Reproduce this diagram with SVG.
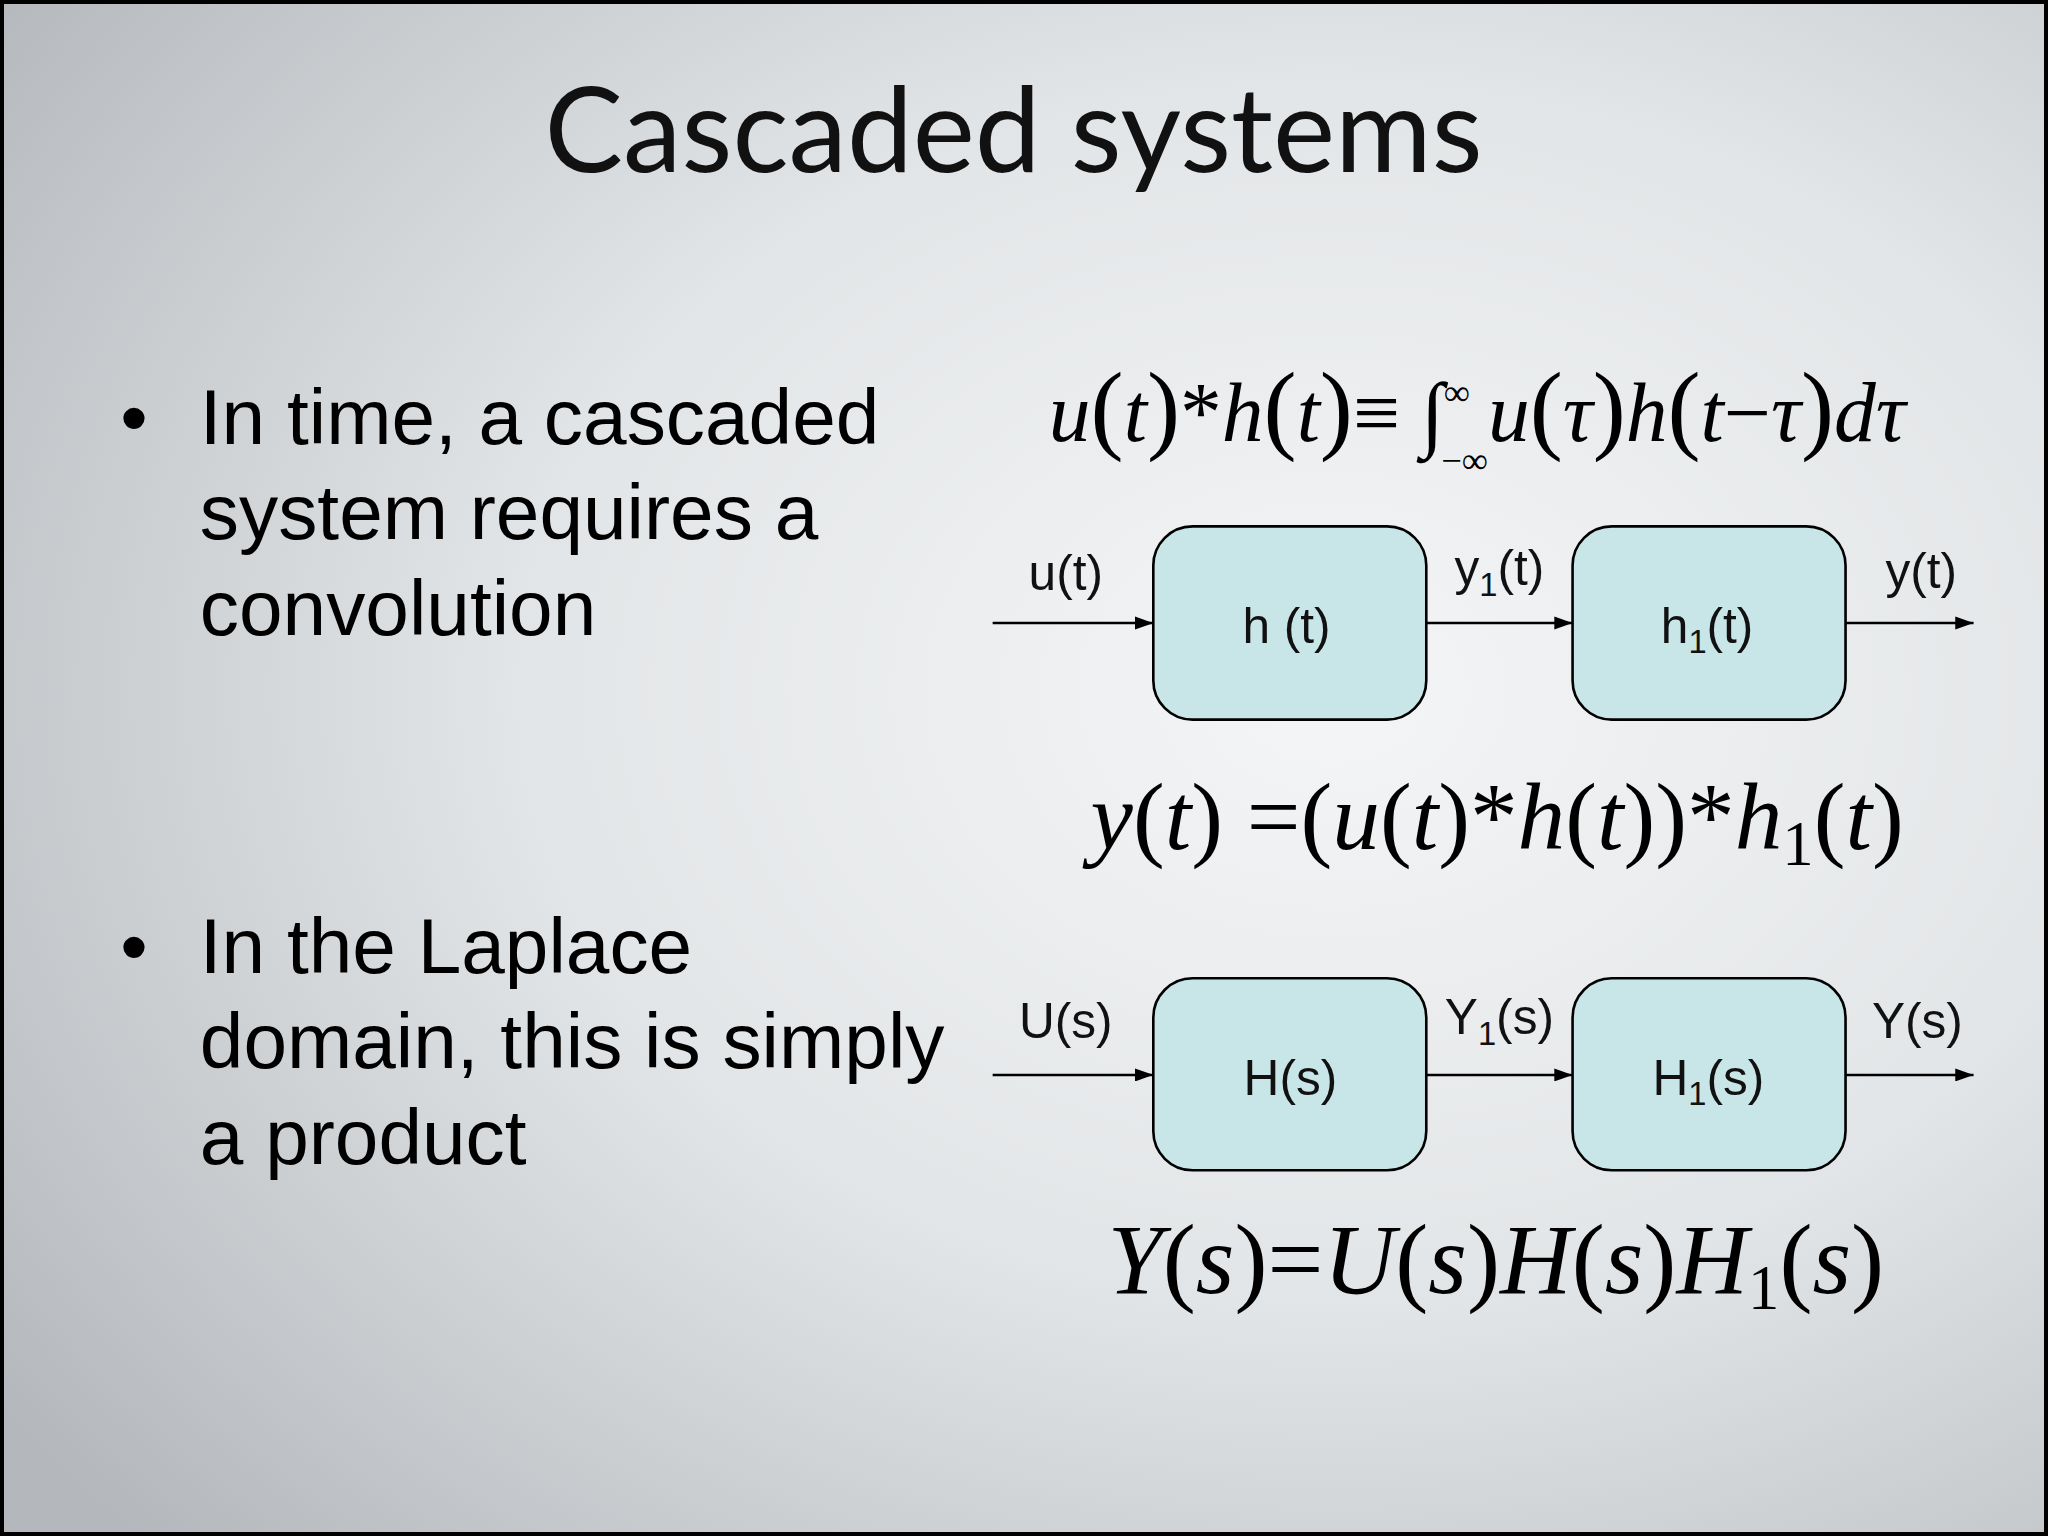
<svg xmlns="http://www.w3.org/2000/svg" width="2048" height="1536" viewBox="0 0 2048 1536">
<defs>
<radialGradient id="bg" cx="0.65" cy="0.45" r="0.8">
<stop offset="0" stop-color="#f4f5f6"/>
<stop offset="0.5" stop-color="#e2e5e7"/>
<stop offset="1" stop-color="#b4b8bc"/>
</radialGradient>
<marker id="ah" markerWidth="14" markerHeight="10" refX="14" refY="5" orient="auto" markerUnits="userSpaceOnUse">
<path d="M0,0 L14,5 L0,10 z" fill="#000"/>
</marker>
<style>
.box{fill:#c8e6e8;stroke:#000;stroke-width:2}
.lbl{font-family:"Liberation Sans",Arial,sans-serif;font-size:38px;fill:#111}
.bul{font-family:"Liberation Sans",Arial,sans-serif;font-size:60px;fill:#000}
.math{font-family:"Liberation Serif","Times New Roman",serif;font-style:italic;fill:#000}
.conn line{stroke:#000;stroke-width:2;marker-end:url(#ah)}
</style>
</defs>
<rect width="2048" height="1536" fill="url(#bg)"/>
<rect x="2" y="2" width="2044" height="1532" fill="none" stroke="#000" stroke-width="4"/>
<g transform="scale(1.30612)">
<text x="776" y="132" text-anchor="middle" font-family="Lato,'Open Sans',sans-serif" font-size="90" fill="#111">Cascaded systems</text>
<g class="bul">
<text x="92" y="340">•</text>
<text x="153" y="340">In time, a cascaded</text>
<text x="153" y="413">system requires a</text>
<text x="153" y="486">convolution</text>
<text x="92" y="745">•</text>
<text x="153" y="745">In the Laplace</text>
<text x="153" y="818">domain, this is simply</text>
<text x="153" y="891">a product</text>
</g>
<text class="math" x="803" y="338" font-size="64">u<tspan font-style="normal" font-size="76">(</tspan>t<tspan font-style="normal" font-size="76">)</tspan><tspan font-style="normal">*</tspan>h<tspan font-style="normal" font-size="76">(</tspan>t<tspan font-style="normal" font-size="76">)</tspan><tspan font-style="normal">≡ ∫</tspan><tspan font-style="normal" font-size="28" dy="-28">∞</tspan><tspan font-style="normal" font-size="28" dx="-22" dy="52">−∞</tspan><tspan dy="-24">u</tspan><tspan font-style="normal" font-size="76">(</tspan>τ<tspan font-style="normal" font-size="76">)</tspan>h<tspan font-style="normal" font-size="76">(</tspan>t<tspan font-style="normal">−</tspan>τ<tspan font-style="normal" font-size="76">)</tspan>dτ</text>
<g id="n1"><rect class="box" x="883" y="403" width="209" height="148" rx="30"/><text class="lbl" x="985" y="492" text-anchor="middle">h (t)</text></g>
<g id="n2"><rect class="box" x="1204" y="403" width="209" height="148" rx="30"/><text class="lbl" x="1307" y="492" text-anchor="middle">h<tspan font-size="25" dy="8">1</tspan><tspan dy="-8">(t)</tspan></text></g>
<g id="n3"><rect class="box" x="883" y="749" width="209" height="147" rx="30"/><text class="lbl" x="988" y="838" text-anchor="middle">H(s)</text></g>
<g id="n4"><rect class="box" x="1204" y="749" width="209" height="147" rx="30"/><text class="lbl" x="1308" y="838" text-anchor="middle">H<tspan font-size="25" dy="8">1</tspan><tspan dy="-8">(s)</tspan></text></g>
<g class="conn" id="connectors">
<line x1="760" y1="477" x2="883" y2="477"/>
<line x1="1092" y1="477" x2="1204" y2="477"/>
<line x1="1413" y1="477" x2="1511" y2="477"/>
<line x1="760" y1="823" x2="883" y2="823"/>
<line x1="1092" y1="823" x2="1204" y2="823"/>
<line x1="1413" y1="823" x2="1511" y2="823"/>
</g>
<text class="lbl" x="816" y="452" text-anchor="middle">u(t)</text>
<text class="lbl" x="1148" y="448" text-anchor="middle">y<tspan font-size="25" dy="8">1</tspan><tspan dy="-8">(t)</tspan></text>
<text class="lbl" x="1471" y="450" text-anchor="middle">y(t)</text>
<text class="lbl" x="816" y="795" text-anchor="middle">U(s)</text>
<text class="lbl" x="1148" y="792" text-anchor="middle">Y<tspan font-size="25" dy="8">1</tspan><tspan dy="-8">(s)</tspan></text>
<text class="lbl" x="1468" y="795" text-anchor="middle">Y(s)</text>
<text class="math" x="835" y="650" font-size="73">y<tspan font-style="normal">(</tspan>t<tspan font-style="normal">) =(</tspan>u<tspan font-style="normal">(</tspan>t<tspan font-style="normal">)*</tspan>h<tspan font-style="normal">(</tspan>t<tspan font-style="normal">))*</tspan>h<tspan font-style="normal" font-size="48" dy="12">1</tspan><tspan font-style="normal" dy="-12">(</tspan>t<tspan font-style="normal">)</tspan></text>
<text class="math" x="848" y="990" font-size="76">Y<tspan font-style="normal">(</tspan>s<tspan font-style="normal">)=</tspan>U<tspan font-style="normal">(</tspan>s<tspan font-style="normal">)</tspan>H<tspan font-style="normal">(</tspan>s<tspan font-style="normal">)</tspan>H<tspan font-style="normal" font-size="48" dy="12">1</tspan><tspan font-style="normal" dy="-12">(</tspan>s<tspan font-style="normal">)</tspan></text>
</g>
</svg>
